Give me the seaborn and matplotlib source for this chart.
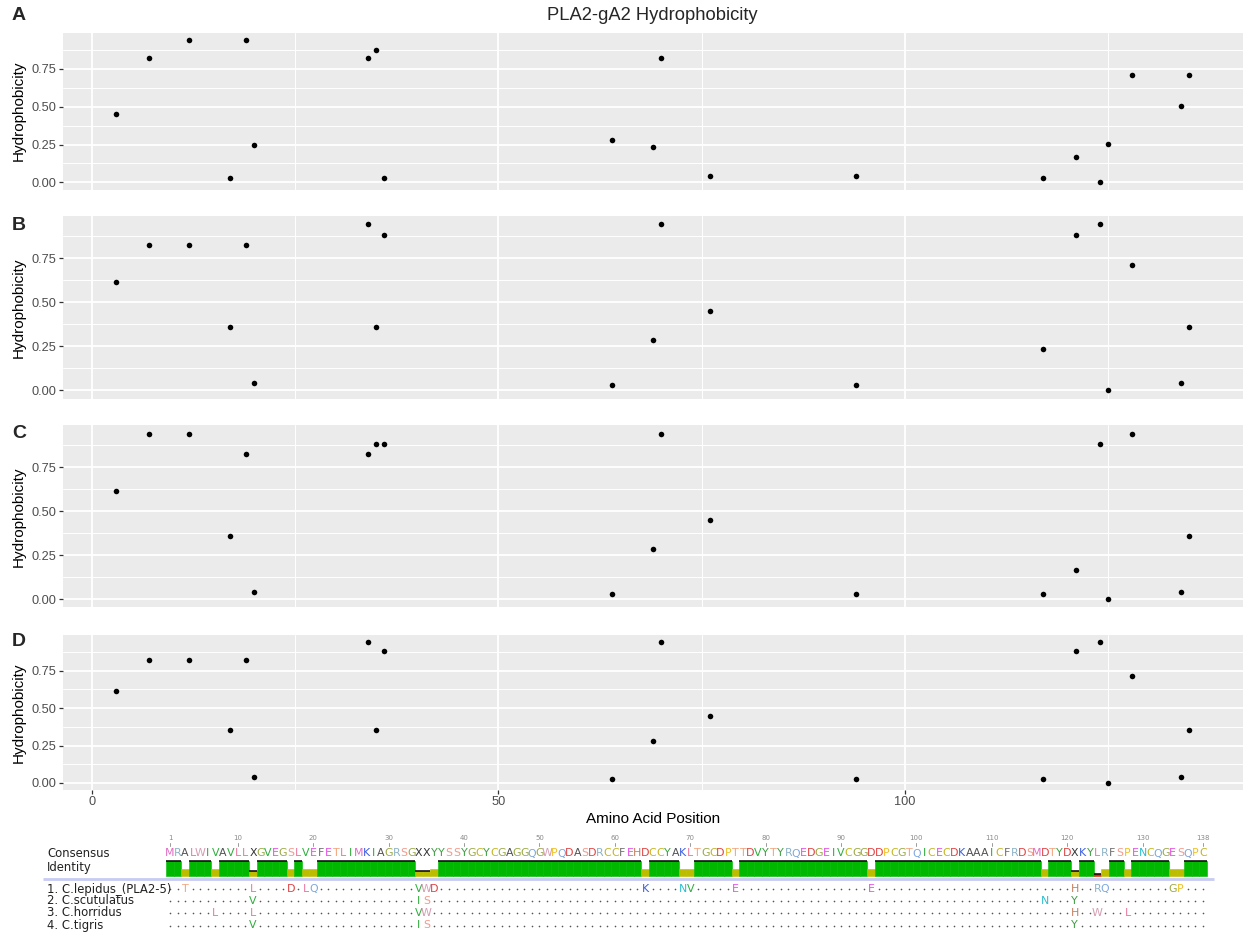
import matplotlib
matplotlib.use("Agg")
import matplotlib.pyplot as plt
import seaborn as sns
import numpy as np
import pandas as pd

# ---------------------------------------------------------------- data
# Variable sites along the PLA2-gA2 alignment
positions = [3, 7, 12, 17, 19, 20, 34, 35, 36, 64, 69, 70, 76, 94,
             117, 121, 124, 125, 128, 134, 135]

hydro_A = [0.450, 0.825, 0.942, 0.028, 0.942, 0.250, 0.825, 0.878, 0.028, 0.283, 0.237,
           0.825, 0.043, 0.043, 0.028, 0.166, 0.000, 0.252, 0.712, 0.502, 0.712]
hydro_B = [0.615, 0.825, 0.825, 0.357, 0.825, 0.042, 0.942, 0.357, 0.880, 0.028, 0.283,
           0.942, 0.450, 0.028, 0.237, 0.880, 0.942, 0.000, 0.712, 0.042, 0.357]
hydro_C = [0.615, 0.942, 0.942, 0.357, 0.825, 0.042, 0.825, 0.880, 0.880, 0.028, 0.283,
           0.942, 0.450, 0.028, 0.028, 0.166, 0.880, 0.000, 0.942, 0.042, 0.357]
hydro_D = [0.615, 0.825, 0.825, 0.357, 0.825, 0.042, 0.942, 0.357, 0.880, 0.028, 0.283,
           0.942, 0.450, 0.028, 0.028, 0.880, 0.942, 0.000, 0.712, 0.042, 0.357]

panel_tags = ["A", "B", "C", "D"]
plot_title = "PLA2-gA2 Hydrophobicity"
x_label = "Amino Acid Position"
y_label = "Hydrophobicity"
x_ticks = [0, 50, 100]
y_ticks = [0.00, 0.25, 0.50, 0.75]

# Alignment
consensus = ("MRALWIVAVLLXGVEGSLVEFETLIMKIAGRSGXXYYSSYGCYCGAGGQGWPQDASDRCC"
             "FEHDCCYAKLTGCDPTTDVYTYRQEDGEIVCGGDDPCGTQICECDKAAAICFRDSMDTYD"
             "XKYLRFSPENCQGESQPC")
seq_names = ["1. C.lepidus_(PLA2-5)", "2. C.scutulatus", "3. C.horridus", "4. C.tigris"]
subs_lepidus = {3: "T", 12: "L", 17: "D", 19: "L", 20: "Q", 34: "V", 35: "W", 36: "D",
                64: "K", 69: "N", 70: "V", 76: "E", 94: "E", 121: "H", 124: "R",
                125: "Q", 134: "G", 135: "P"}
subs_scutulatus = {12: "V", 34: "I", 35: "S", 117: "N", 121: "Y"}
subs_horridus = {7: "L", 12: "L", 34: "V", 35: "W", 121: "H", 124: "W", 128: "L"}
subs_tigris = {12: "V", 34: "I", 35: "S", 121: "Y"}
ruler_ticks = [1, 10, 20, 30, 40, 50, 60, 70, 80, 90, 100, 110, 120, 130, 138]

# residue colours
aa_colors = {
    "M": "#E06CC4", "R": "#8DB3C7", "A": "#505050", "L": "#E8799E", "W": "#D49DB2",
    "I": "#2FA83B", "V": "#2EAE3E", "X": "#333333", "G": "#9BAA46", "E": "#E64FE6",
    "S": "#F39A8B", "F": "#6E6E6E", "T": "#F4A67F", "K": "#3B5DE0", "Y": "#3C9F3F",
    "C": "#C5B522", "Q": "#7DA7DF", "D": "#E04242", "P": "#EFC021", "H": "#C47F5E",
    "N": "#2FBDCD",
}

# ---------------------------------------------------------------- figure
W, H = 1244, 936
sns.set_theme(style="darkgrid")
plt.rcParams["font.family"] = ["Liberation Sans", "DejaVu Sans"]
fig = plt.figure(figsize=(W / 100, H / 100), dpi=100)


def fx(px):
    return px / W


def fy(py):
    return 1 - py / H


panel_px = [(32.7, 189.5), (216, 398.7), (425.3, 607.3), (635, 790)]
tag_y = [15, 226, 433, 642]
left_px, right_px = 62.5, 1243

frames = [hydro_A, hydro_B, hydro_C, hydro_D]
axes = []
for i, (vals, (top, bot)) in enumerate(zip(frames, panel_px)):
    ax = fig.add_axes([fx(left_px), fy(bot), fx(right_px - left_px), (bot - top) / H])
    df = pd.DataFrame({"position": positions, "hydrophobicity": vals})
    sns.scatterplot(data=df, x="position", y="hydrophobicity", ax=ax, color="black",
                    s=16, linewidth=0, zorder=3)
    ax.set_facecolor("#EBEBEB")
    xr = max(positions) - min(positions)
    ax.set_xlim(min(positions) - 0.05 * xr, max(positions) + 0.05 * xr)
    yr = max(vals) - min(vals)
    ax.set_ylim(min(vals) - 0.05 * yr, max(vals) + 0.05 * yr)
    ax.set_xticks(x_ticks)
    ax.set_xticks([25, 75, 125], minor=True)
    ax.set_yticks(y_ticks)
    ax.set_yticks([0.125, 0.375, 0.625, 0.875], minor=True)
    ax.set_yticklabels([f"{t:.2f}" for t in y_ticks])
    ax.grid(which="major", color="white", lw=1.3)
    ax.grid(which="minor", color="white", lw=0.7)
    for s in ax.spines.values():
        s.set_visible(False)
    ax.tick_params(axis="y", which="major", left=True, length=2.6, width=0.9,
                   color="#333333", labelsize=9.2, labelcolor="#4D4D4D", pad=1.6)
    ax.tick_params(which="minor", length=0)
    if i < 3:
        ax.tick_params(axis="x", which="major", bottom=False, labelbottom=False)
        ax.set_xlabel("")
    else:
        ax.tick_params(axis="x", which="major", bottom=True, length=2.6, width=0.9,
                       color="#333333", labelsize=9.2, labelcolor="#4D4D4D", pad=1.6)
        ax.set_xlabel(x_label, fontsize=11, color="black")
        ax.xaxis.set_label_coords(0.5, -0.145)
    ax.set_ylabel(y_label, fontsize=11, color="black")
    ax.yaxis.set_label_coords(-0.031, 0.5)
    fig.text(fx(12), fy(tag_y[i]), panel_tags[i], fontsize=14, fontweight="bold",
             ha="left", va="center")
    axes.append(ax)

fig.text(fx((left_px + right_px) / 2), fy(16), plot_title, fontsize=13.2,
         ha="center", va="center")

# ---------------------------------------------------------------- alignment
seqs = []
for subs in [subs_lepidus, subs_scutulatus, subs_horridus, subs_tigris]:
    s = list(consensus)
    for p, aa in subs.items():
        s[p - 1] = aa
    seqs.append(s)

n = len(consensus)
res = np.arange(1, n + 1)
identity = []
for k in range(n):
    col = [s[k] for s in seqs]
    pairs = [(a, b) for ia, a in enumerate(col) for b in col[ia + 1:]]
    identity.append(sum(a == b for a, b in pairs) / len(pairs))
identity = np.array(identity)

x0_px, step_px = 170.0, 7.54          # residue 1 centre and residue spacing
top_px = 830
ax_al = fig.add_axes([0, 0, 1, (H - top_px) / H])
ax_al.set_xlim(1 - x0_px / step_px, 1 + (W - x0_px) / step_px)
ax_al.set_ylim(H - top_px, 0)
ax_al.axis("off")
ax_al.set_facecolor("white")

font_al = ["DejaVu Sans"]
# ruler
for t in ruler_ticks:
    ax_al.text(t, 8.5, str(t), fontsize=5.0, color="#8A8A8A", ha="center", va="center",
               family=font_al)
    ax_al.plot([t, t], [12.5, 16], color="#9A9A9A", lw=0.7)

# labels
lab_x = fx(47)
lab_size = 8.4
ax_al.text(lab_x, 1 - 23.5 / 106, "Consensus", transform=ax_al.transAxes, fontsize=lab_size,
           ha="left", va="center", family=font_al, color="#222222")
ax_al.text(lab_x, 1 - 38 / 106, "Identity", transform=ax_al.transAxes, fontsize=lab_size,
           ha="left", va="center", family=font_al, color="#222222")

# consensus letters
aa_size = 7.9
for p, aa in zip(res, consensus):
    ax_al.text(p, 23.5, aa, fontsize=aa_size, color=aa_colors.get(aa, "#333333"),
               ha="center", va="center", family=font_al)

# identity bars
bar_base, bar_h = 46.2, 15.0
bar_cols = np.where(identity >= 0.999, "#00B800",
                    np.where(identity >= 0.3, "#BDBD00", "#E42A00"))
ax_al.bar(res, -bar_h * identity, bottom=bar_base, width=1.0, color=bar_cols,
          linewidth=0.4, edgecolor=bar_cols, align="center")
for p, f in zip(res, identity):
    if f >= 0.999 or f < 0.45:
        ax_al.plot([p - 0.5, p + 0.5], [bar_base - bar_h * f] * 2, color="black", lw=1.1,
                   solid_capstyle="butt")
ax_al.plot([1 + (43 - x0_px) / step_px, 1 + (1214 - x0_px) / step_px], [48.6, 48.6],
           color="#C8CBF2", lw=2.0, solid_capstyle="butt")

# sequence rows
row_y = [59, 71, 83, 95.5]
for name, s, yy in zip(seq_names, seqs, row_y):
    ax_al.text(lab_x, 1 - yy / 106, name, transform=ax_al.transAxes, fontsize=lab_size,
               ha="left", va="center", family=font_al, color="#222222")
    same = [p for p, a, c in zip(res, s, consensus) if a == c]
    ax_al.scatter(same, [yy] * len(same), s=1.4, color="#555555", linewidths=0)
    for p, a, c in zip(res, s, consensus):
        if a != c:
            ax_al.text(p, yy, a, fontsize=aa_size, color=aa_colors.get(a, "#333333"),
                       ha="center", va="center", family=font_al)

fig.savefig("out.png", dpi=100)
